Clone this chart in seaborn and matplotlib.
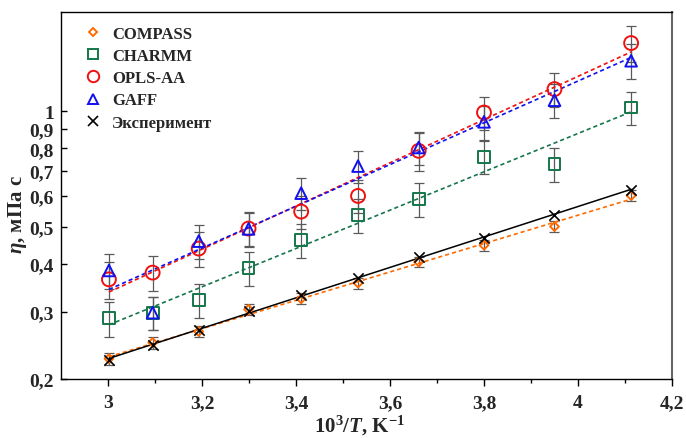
import numpy as np
import pandas as pd
import matplotlib
matplotlib.use("Agg")
import matplotlib.pyplot as plt
from matplotlib.lines import Line2D
import seaborn as sns

# ---------------- data ----------------
inv_T = [3.002, 3.095, 3.193, 3.299, 3.411, 3.532, 3.661, 3.800, 3.950, 4.113]

compass = [0.226, 0.249, 0.266, 0.304, 0.324, 0.356, 0.404, 0.447, 0.500, 0.602]
compass_err = [0.008, 0.009, 0.009, 0.010, 0.011, 0.012, 0.013, 0.015, 0.016, 0.019]

charmm = [0.288, 0.298, 0.321, 0.389, 0.461, 0.536, 0.589, 0.760, 0.727, 1.022]
charmm_err = [0.030, 0.030, 0.033, 0.040, 0.046, 0.054, 0.060, 0.076, 0.075, 0.100]

opls = [0.364, 0.379, 0.438, 0.494, 0.547, 0.601, 0.788, 0.992, 1.142, 1.506]
opls_err = [0.040, 0.040, 0.045, 0.050, 0.055, 0.060, 0.090, 0.100, 0.115, 0.160]

gaff = [0.384, 0.298, 0.458, 0.493, 0.611, 0.719, 0.804, 0.938, 1.068, 1.354]
gaff_err = [0.040, 0.030, 0.046, 0.050, 0.060, 0.070, 0.080, 0.095, 0.110, 0.140]

experiment = [0.224, 0.245, 0.269, 0.301, 0.332, 0.368, 0.416, 0.468, 0.536, 0.623]

labels = ["COMPASS", "CHARMM", "OPLS-AA", "GAFF", "Эксперимент"]
yticks = [0.2, 0.3, 0.4, 0.5, 0.6, 0.7, 0.8, 0.9, 1.0]
ytick_labels = ["0,2", "0,3", "0,4", "0,5", "0,6", "0,7", "0,8", "0,9", "1"]
xticks = [3.0, 3.2, 3.4, 3.6, 3.8, 4.0, 4.2]
xtick_labels = ["3", "3,2", "3,4", "3,6", "3,8", "4", "4,2"]

# ---------------- style ----------------
sns.set_theme(style="white")
plt.rcParams["font.family"] = ["Liberation Serif", "DejaVu Serif"]
plt.rcParams["font.weight"] = "bold"
plt.rcParams["mathtext.fontset"] = "custom"
plt.rcParams["mathtext.rm"] = "Liberation Serif:bold"
plt.rcParams["mathtext.bf"] = "Liberation Serif:bold"
plt.rcParams["mathtext.it"] = "Liberation Serif:italic:bold"

C_OR = "#ff6a00"
C_GR = "#15764a"
C_RD = "#f01010"
C_BL = "#1010f0"
C_BK = "#000000"
C_ERR = "#5a5a5a"

fig = plt.figure(figsize=(6.86, 4.39), dpi=100)
ax = fig.add_axes([61 / 686, 1 - 380 / 439, (672 - 61) / 686, (380 - 13) / 439])
ax.set_yscale("log")

series = [
    ("COMPASS", compass, compass_err, C_OR, "D", 20, (0, (2.5, 1.8))),
    ("CHARMM", charmm, charmm_err, C_GR, "s", 72, (0, (2.5, 1.8))),
    ("OPLS-AA", opls, opls_err, C_RD, "o", 100, (0, (2.5, 1.8))),
    ("GAFF", gaff, gaff_err, C_BL, "^", 70, (0, (2.5, 1.8))),
]

x = np.array(inv_T)

# error bars (behind)
for name, y, err, col, mk, s, ls in series:
    ax.errorbar(x, y, yerr=err, fmt="none", ecolor=C_ERR, elinewidth=0.9,
                capsize=3.5, capthick=0.9, zorder=1)

# fit lines (Arrhenius: ln eta linear in 1/T)
for name, y, err, col, mk, s, ls in series:
    k, b = np.polyfit(x, np.log(y), 1)
    xf = np.linspace(x[0], x[-1], 60)
    sns.lineplot(x=xf, y=np.exp(k * xf + b), ax=ax, color=col, lw=1.2,
                 linestyle=ls, zorder=2, legend=False)
k, b = np.polyfit(x, np.log(experiment), 1)
xf = np.linspace(x[0], x[-1], 60)
sns.lineplot(x=xf, y=np.exp(k * xf + b), ax=ax, color=C_BK, lw=1.1,
             zorder=2, legend=False)

# markers
for name, y, err, col, mk, s, ls in series:
    df = pd.DataFrame({"x": x, "y": y})
    sns.scatterplot(data=df, x="x", y="y", ax=ax, marker=mk, s=s,
                    facecolor="none", edgecolor=col, linewidth=1.4, zorder=3,
                    legend=False)
dfe = pd.DataFrame({"x": x, "y": experiment})
sns.scatterplot(data=dfe, x="x", y="y", ax=ax, marker="x", s=55, color=C_BK,
                linewidth=1.2, zorder=4, legend=False)

# axes
ax.set_xlim(2.9, 4.2)
ax.set_ylim(0.2, 1.815)
ax.set_xticks(xticks)
ax.set_xticklabels(xtick_labels)
ax.set_xticks(np.arange(3.1, 4.15, 0.2), minor=True)
ax.set_yticks(yticks)
ax.set_yticklabels(ytick_labels)
ax.yaxis.set_minor_locator(matplotlib.ticker.NullLocator())
ax.tick_params(axis="x", which="major", direction="out", length=5, width=1,
               color="black", labelsize=14, pad=6, bottom=True)
ax.tick_params(axis="x", which="minor", direction="out", length=3, width=1,
               color="black", bottom=True)
ax.tick_params(axis="y", which="major", direction="in", length=4, width=1,
               color="black", labelsize=14, pad=5, left=True)
for lab in ax.get_xticklabels() + ax.get_yticklabels():
    lab.set_fontweight("bold")

for side in ["left", "bottom", "top"]:
    ax.spines[side].set_color("black")
    ax.spines[side].set_linewidth(1.0)
ax.spines["right"].set_color("#666666")
ax.spines["right"].set_linewidth(1.5)

ax.set_xlabel(r"$\mathit{10^3/T}$, K$^{-1}$", fontsize=15, fontweight="bold")
ax.set_ylabel(r"$\mathit{\eta}$, мПа с", fontsize=15, fontweight="bold")
ax.xaxis.set_label_coords(0.489, -0.093)
ax.yaxis.set_label_coords(-0.052, 0.45)

# legend
handles = [
    Line2D([], [], ls="none", marker="D", ms=4.2, mfc="none", mec=C_OR, mew=1.4),
    Line2D([], [], ls="none", marker="s", ms=7.2, mfc="none", mec=C_GR, mew=1.4),
    Line2D([], [], ls="none", marker="o", ms=8.2, mfc="none", mec=C_RD, mew=1.4),
    Line2D([], [], ls="none", marker="^", ms=7.2, mfc="none", mec=C_BL, mew=1.4),
    Line2D([], [], ls="none", marker="x", ms=6.5, color=C_BK, mew=1.2),
]
leg = ax.legend(handles, labels, loc="upper left", bbox_to_anchor=(0.033, 0.962),
                frameon=False, borderaxespad=0, borderpad=0, handlelength=1.4,
                handletextpad=0.44, labelspacing=0.37,
                prop={"family": ["Liberation Serif"], "weight": "bold", "size": 12})

fig.savefig("out.png", dpi=100)
